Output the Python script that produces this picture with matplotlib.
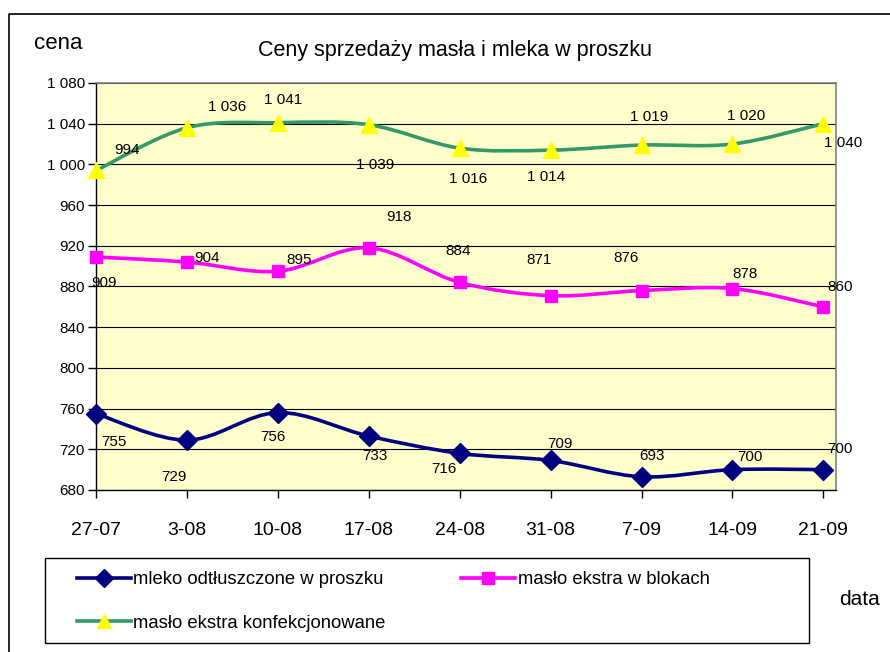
#!/usr/bin/env python3
"""Ceny sprzedaży masła i mleka w proszku - line chart with smoothed lines."""

import matplotlib
matplotlib.use("Agg")
import matplotlib.pyplot as plt
from matplotlib.path import Path
from matplotlib.patches import PathPatch, Rectangle
from matplotlib.lines import Line2D

plt.rcParams['font.family'] = ['Liberation Sans', 'DejaVu Sans']

# data
dates = ["27-07", "3-08", "10-08", "17-08", "24-08", "31-08", "7-09", "14-09", "21-09"]
mleko = [755, 729, 756, 733, 716, 709, 693, 700, 700]
maslo_bloki = [909, 904, 895, 918, 884, 871, 876, 878, 860]
maslo_konf = [994, 1036, 1041, 1039, 1016, 1014, 1019, 1020, 1040]

labels = ["mleko odtłuszczone w proszku", "masło ekstra w blokach",
          "masło ekstra konfekcjonowane"]

# label offsets in pixels (dx, dy) for each data label
off_mleko = [(18, -28), (-13, -37), (-5, -24), (6, -20), (-16, -16),
             (9, 16), (10, 21), (18, 13), (17, 21)]
off_bloki = [(8, -26), (20, 4), (21, 11), (30, 31), (-2, 31),
             (-12, 36), (-15, 33), (13, 15), (17, 20)]
off_konf = [(31, 20), (40, 21), (5, 23), (6, -40), (8, -31),
            (-4, -27), (8, 28), (14, 28), (20, -19)]


def fmt(v):
    return f"{v:,}".replace(",", " ")


def smooth_path(xs, ys):
    # Excel-like smoothing: cubic bezier through all points
    pts = list(zip(xs, ys))
    n = len(pts)
    verts = [pts[0]]
    codes = [Path.MOVETO]
    for i in range(n - 1):
        p0 = pts[i - 1] if i > 0 else pts[i]
        p1 = pts[i]
        p2 = pts[i + 1]
        p3 = pts[i + 2] if i + 2 < n else pts[i + 1]
        c1 = (p1[0] + (p2[0] - p0[0]) / 6, p1[1] + (p2[1] - p0[1]) / 6)
        c2 = (p2[0] - (p3[0] - p1[0]) / 6, p2[1] - (p3[1] - p1[1]) / 6)
        verts += [c1, c2, p2]
        codes += [Path.CURVE4] * 3
    return Path(verts, codes)


fig = plt.figure(figsize=(8.9, 6.52), dpi=100)
ax = fig.add_axes([0.1079, 0.2485, 0.8315, 0.6242])
ax.set_facecolor('#FFFFCC')

x = list(range(len(dates)))
series = [
    (mleko, '#000080', 'D', 10, '#000080', off_mleko),
    (maslo_bloki, '#FF00FF', 's', 9, '#FF00FF', off_bloki),
    (maslo_konf, '#339966', '^', 11, '#FFFF00', off_konf),
]

handles = []
for vals, col, mk, ms, mcol, offs in series:
    ax.add_patch(PathPatch(smooth_path(x, vals), facecolor='none', edgecolor=col,
                           lw=2.6, zorder=3, capstyle='round', joinstyle='round'))
    ax.plot(x, vals, linestyle='none', marker=mk, markersize=ms,
            markerfacecolor=mcol, markeredgecolor=mcol, zorder=4, clip_on=False)
    for xi, v, (dx, dy) in zip(x, vals, offs):
        ax.annotate(fmt(v), (xi, v), xytext=(dx, dy), textcoords='offset pixels',
                    ha='center', va='center', fontsize=11, zorder=5,
                    annotation_clip=False)
    handles.append(Line2D([], [], color=col, lw=2.6, marker=mk, markersize=ms - 1,
                          markerfacecolor=mcol, markeredgecolor=mcol))

ax.set_xlim(0, 8.14)
ax.set_ylim(680, 1080)
ax.set_yticks(range(680, 1081, 40))
ax.set_yticklabels([fmt(v) for v in range(680, 1081, 40)], fontsize=11)
ax.set_xticks(x)
ax.set_xticklabels(dates, fontsize=14)
ax.tick_params(axis='x', direction='out', length=6, width=1, pad=17)
ax.tick_params(axis='y', direction='out', length=6, width=1, pad=2)
ax.grid(axis='y', color='black', linewidth=0.8)
ax.set_axisbelow(True)
for s in ['top', 'right']:
    ax.spines[s].set_color('#808080')
    ax.spines[s].set_linewidth(1.2)
for s in ['left', 'bottom']:
    ax.spines[s].set_color('black')
    ax.spines[s].set_linewidth(1)

fig.text(0.511, 0.923, "Ceny sprzedaży masła i mleka w proszku", ha='center',
         va='center', fontsize=15.5)
fig.text(0.066, 0.934, "cena", ha='center', va='center', fontsize=16)
fig.text(0.966, 0.080, "data", ha='center', va='center', fontsize=15)

# outer chart frame
fig.add_artist(Line2D([9 / 890, 9 / 890, 1.0], [0.0, 1 - 14 / 652, 1 - 14 / 652],
                      color='black', lw=1.2))

# legend box
fig.add_artist(Rectangle((45 / 890, 1 - 643 / 652), (809 - 45) / 890, 85 / 652,
                         transform=fig.transFigure, facecolor='white',
                         edgecolor='black', lw=1))
leg = fig.legend([handles[0], handles[2], handles[1]],
                 [labels[0], labels[2], labels[1]],
                 ncol=2, loc='upper left', bbox_to_anchor=(77 / 890, 1 - 571 / 652),
                 frameon=False, fontsize=13.3, handlelength=2.9, handletextpad=0.15,
                 columnspacing=4.1, labelspacing=1.45, borderpad=0, borderaxespad=0)

fig.savefig("out.png", dpi=100, facecolor='white')
